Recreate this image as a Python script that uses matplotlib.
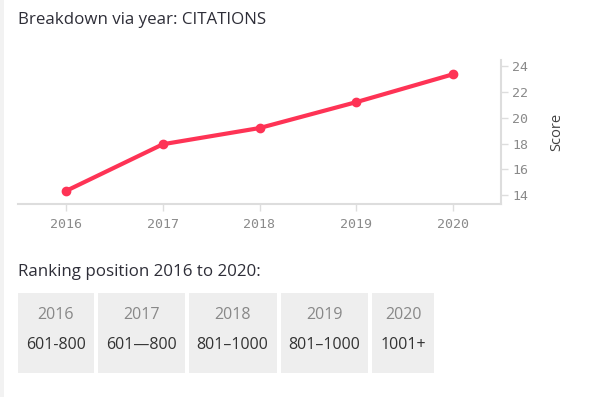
import matplotlib
matplotlib.use("Agg")
import matplotlib.pyplot as plt
from matplotlib.patches import Rectangle

years = [2016, 2017, 2018, 2019, 2020]
scores = [14.35, 17.95, 19.2, 21.2, 23.35]
y_ticks = [14, 16, 18, 20, 22, 24]
rank_years = ["2016", "2017", "2018", "2019", "2020"]
rank_values = ["601-800", "601\u2014800", "801\u20131000", "801\u20131000", "1001+"]

W, H = 594, 397
fig = plt.figure(figsize=(W / 100, H / 100), dpi=100)
fig.patch.set_facecolor("white")

def fx(px):
    return px / W

def fy(py):
    return 1 - py / H

# thin grey strip on the left edge
fig.patches.append(Rectangle((0, 0), fx(4), 1, transform=fig.transFigure,
                             facecolor="#f2f2f2", edgecolor="none"))

fig.text(fx(18), fy(20), "Breakdown via year: CITATIONS", family="Open Sans",
         fontsize=12.2, color="#2e2e38", va="center", ha="left")

ax = fig.add_axes([fx(18), fy(204), fx(501) - fx(18), fy(60) - fy(204)])
ax.plot(years, scores, color="#fe3355", lw=3, marker="o", ms=6,
        solid_capstyle="round", zorder=3)
ax.set_xlim(2015.5, 2020.5)
ax.set_ylim(13.33, 24.46)
ax.set_xticks(years)
ax.set_yticks(y_ticks)
ax.yaxis.tick_right()
ax.yaxis.set_label_position("right")
for s in ["top", "left"]:
    ax.spines[s].set_visible(False)
for s in ["bottom", "right"]:
    ax.spines[s].set_color("#dddddd")
    ax.spines[s].set_linewidth(1.5)
ax.tick_params(axis="both", colors="#dddddd", labelcolor="#8a8a8a",
               length=5, width=1)
for lab in ax.get_xticklabels() + ax.get_yticklabels():
    lab.set_family("DejaVu Sans Mono")
    lab.set_fontsize(9.5)
ax.tick_params(axis="x", pad=5)
ax.tick_params(axis="y", pad=3)
ax.set_ylabel("Score", family="Open Sans", fontsize=10.5, color="#444444",
              labelpad=15)

fig.text(fx(18), fy(272), "Ranking position 2016 to 2020:", family="Open Sans",
         fontsize=12.2, color="#2e2e38", va="center", ha="left")

fig.canvas.draw()
renderer = fig.canvas.get_renderer()
x = 18
for yr, rv in zip(rank_years, rank_values):
    t = fig.text(0, fy(345), rv, family="Open Sans", fontsize=11.5,
                 color="#333333", va="center", ha="center")
    tw = t.get_window_extent(renderer).width
    bw = tw + 16
    fig.patches.append(Rectangle((fx(x), fy(373)), fx(bw), fy(293) - fy(373),
                                 transform=fig.transFigure, facecolor="#eeeeee",
                                 edgecolor="none", zorder=0))
    t.set_x(fx(x + bw / 2))
    fig.text(fx(x + bw / 2), fy(315), yr, family="Open Sans", fontsize=11.5,
             color="#888888", va="center", ha="center")
    x += bw + 4

fig.savefig("out.png", dpi=100)
